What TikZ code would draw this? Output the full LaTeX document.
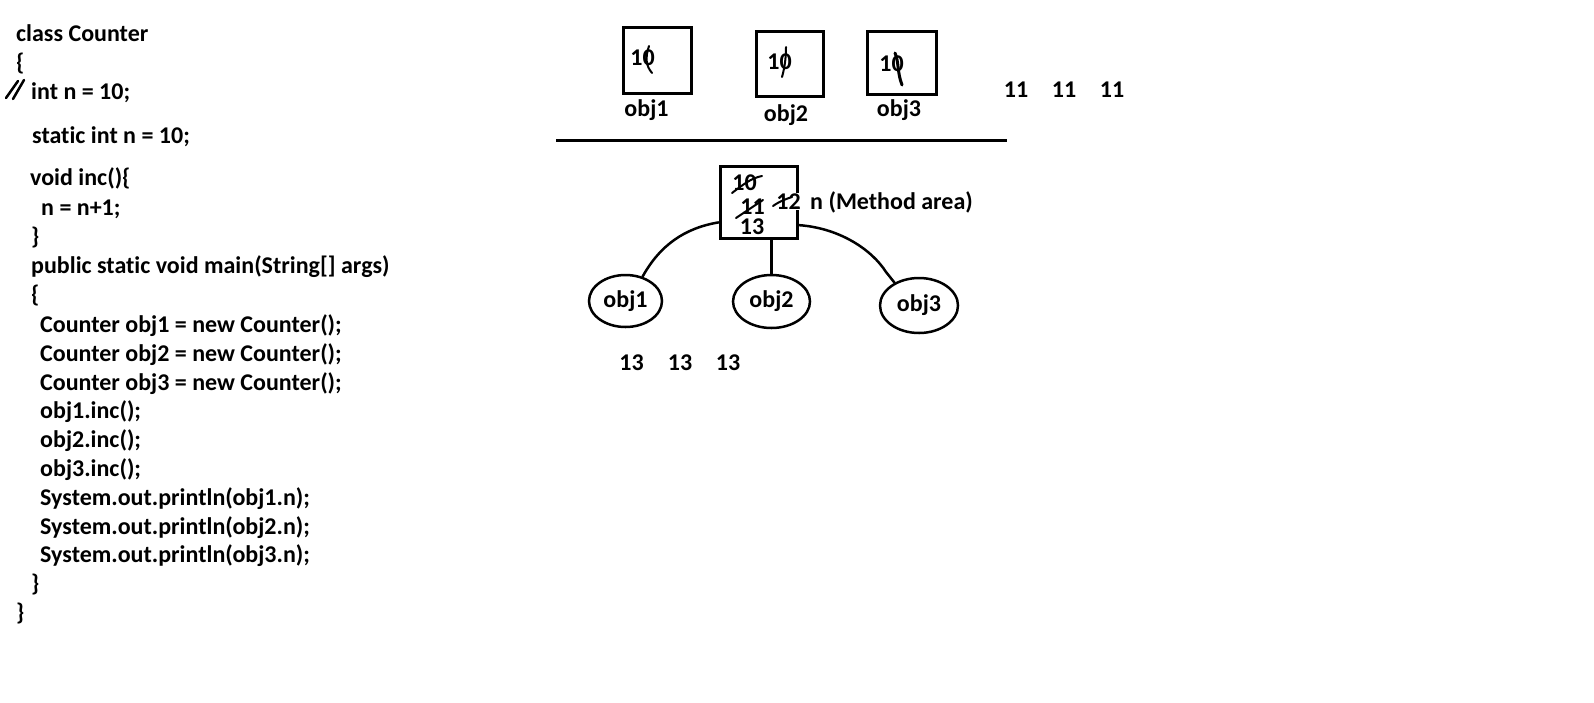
\documentclass[tikz,border=0pt]{standalone}
\usepackage{fontspec}
\setmainfont{Carlito}[Ligatures=NoCommon]
\usetikzlibrary{shapes.geometric}
\begin{document}
\begin{tikzpicture}[x=1pt,y=-1pt,
  txt/.style={inner sep=0pt, font=\bfseries\fontsize{24}{29}\selectfont},
  code/.style={txt, anchor=base west},
  cell/.style={draw, line width=3pt, inner sep=0pt},
  obj/.style={draw, ellipse, line width=2.5pt, inner sep=0pt, txt},
  pen/.style={line width=2.5pt, line cap=round, line join=round},
  strike/.style={line width=2pt, line cap=round}]
\useasboundingbox[fill=white] (0,0) rectangle (1594,702);

% ---- code listing ----
\node[code] (c1) at (16,41) {class Counter};
\node[code] (c2) at (16,70) {\{};
\node[code] (c3) at (31,99) {int n = 10;};
\node[code] (c4) at (32,143) {static int n = 10;};
\node[code] (c5) at (30,185) {void inc()\{};
\node[code] (c6) at (41,215) {n = n+1;};
\node[code] (c7) at (31,244) {\}};
\node[code] (c8) at (31,273) {public static void main(String[] args)};
\node[code] (c9) at (31,302) {\{};
\node[code] (c10) at (40,332) {Counter obj1 = new Counter();};
\node[code] (c11) at (40,361) {Counter obj2 = new Counter();};
\node[code] (c12) at (40,390) {Counter obj3 = new Counter();};
\node[code] (c13) at (40,418) {obj1.inc();};
\node[code] (c14) at (40,447) {obj2.inc();};
\node[code] (c15) at (40,476) {obj3.inc();};
\node[code] (c16) at (40,505) {System.out.println(obj1.n);};
\node[code] (c17) at (40,534) {System.out.println(obj2.n);};
\node[code] (c18) at (40,562) {System.out.println(obj3.n);};
\node[code] (c19) at (31,591) {\}};
\node[code] (c20) at (16,620) {\}};
% hand-drawn comment slashes
\draw[pen] (6,98) -- (18,81);
\draw[pen] (13,99) -- (24,80);

% ---- top: three objects ----
\node[cell, minimum width=68, minimum height=66] (o1) at (657,60) {};
\node[cell, minimum width=67, minimum height=65] (o2) at (789.5,63.5) {};
\node[cell, minimum width=69, minimum height=63] (o3) at (901.5,62.5) {};
\node[txt] (v1) at (642.5,57.5) {10};
\node[txt] (v2) at (779.5,62) {10};
\node[txt] (v3) at (891.5,64) {10};
\draw[strike] (649,46) .. controls (645,58) and (646,66) .. (652,73);
\draw[strike] (786,47) .. controls (786,60) and (784,70) .. (782,77);
\draw[line width=3pt, line cap=round] (895,53) .. controls (899,62) and (897,72) .. (902,85);
\node[txt] (l1) at (646.5,110.5) {obj1};
\node[txt] (l2) at (786,115) {obj2};
\node[txt] (l3) at (899,110) {obj3};
\node[txt] (r1) at (1016,90) {11};
\node[txt] (r2) at (1064,90) {11};
\node[txt] (r3) at (1112,90) {11};

% separator
\draw[line width=3pt] (556,140.5) -- (1007,140.5);

% ---- bottom: static variable in method area ----
\node[cell, minimum width=77, minimum height=72] (m) at (758.5,202) {};
\node[txt] (m10) at (744.5,183) {10};
\node[txt] (m11) at (752.5,206.5) {11};
\node[txt] (m13) at (752,227) {13};
\node[txt, fill=white, inner sep=0.5pt] (m12) at (788.5,201.5) {12};
\draw[strike] (732,193) .. controls (745,183) and (752,178) .. (762,176);
\draw[strike] (736,218) -- (763,200);
\draw[strike] (773,206) .. controls (780,201) and (786,199) .. (792,197);
\node[txt, anchor=west] (lab) at (810,202) {n (Method area)};

\node[obj, minimum width=73, minimum height=52] (e1) at (625.5,301) {obj1};
\node[obj, minimum width=77, minimum height=53] (e2) at (771.5,301.5) {obj2};
\node[obj, minimum width=78, minimum height=55] (e3) at (919,305.5) {obj3};

\draw[pen] (e1.55) .. controls (660,245) and (685,228) .. (m.207);
\draw[pen] (e2.north |- m.south) -- (e2.north);
\draw[pen] (m.-30) .. controls (840,228) and (872,250) .. (886,272) -- (e3.137);

\node[txt] (p1) at (631.5,362.5) {13};
\node[txt] (p2) at (680,362.5) {13};
\node[txt] (p3) at (728,362.5) {13};
\end{tikzpicture}
\end{document}
